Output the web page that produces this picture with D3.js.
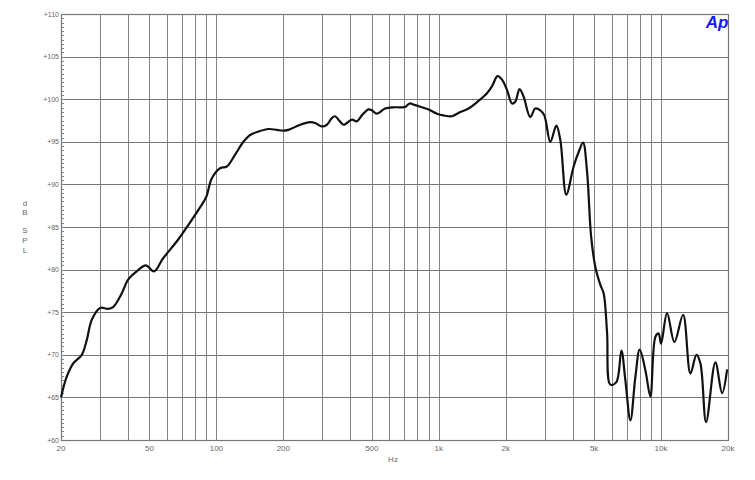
<!DOCTYPE html>
<html>
<head>
<meta charset="utf-8">
<script src="https://cdn.jsdelivr.net/npm/d3@7"></script>
<style>
  body { margin: 0; background: #fff; }
  svg { display: block; font-family: "Liberation Sans", Arial, sans-serif; }
</style>
</head>
<body>
<script>
'use strict';

// measured response: frequency (Hz) and level (dB SPL)
const freqs = [20, 21.2, 22.7, 24.8, 26.1, 27.5, 30, 32.5, 34.3, 37.5, 40, 43.8, 48.2, 52.4, 57.5,
  67.2, 74.6, 84.4, 89.9, 95.3, 103.9, 111.4, 121.4, 132.3, 141.8, 154.6, 171.4, 187, 200, 210.8,
  238, 264, 278, 298, 314, 331, 342, 354, 373, 386, 407, 428, 451, 483, 500, 527, 574, 626, 671,
  707, 739, 784, 840, 900, 982, 1051, 1147, 1250, 1362, 1510, 1648, 1735, 1839, 1925, 2027, 2135,
  2209, 2310, 2408, 2581, 2719, 2863, 2985, 3176, 3380, 3523, 3747, 4043, 4258, 4457, 4646, 4842,
  5063, 5333, 5519, 5716, 5913, 6294, 6630, 6910, 7278, 7664, 8013, 8500, 8952, 9428, 9755, 10000,
  10640, 11480, 12560, 13550, 14420, 15030, 15940, 17550, 18810, 19820];
const levels = [65.0, 67.4, 69.0, 70.0, 71.7, 74.1, 75.5, 75.4, 75.6, 77.2, 78.8, 79.8, 80.5, 79.8, 81.3,
  83.5, 85.2, 87.3, 88.5, 90.7, 91.9, 92.1, 93.5, 95.0, 95.8, 96.2, 96.5, 96.4, 96.3, 96.4,
  97.0, 97.3, 97.2, 96.8, 97.0, 97.8, 98.0, 97.6, 97.0, 97.2, 97.6, 97.4, 98.1, 98.8, 98.7, 98.3, 98.9, 99.05, 99.05,
  99.1, 99.5, 99.3, 99.05, 98.8, 98.3, 98.1, 98.0, 98.5, 98.9, 99.8, 100.7, 101.5, 102.7, 102.3, 101.1, 99.5,
  99.7, 101.2, 100.3, 97.9, 98.9, 98.7, 98.1, 95.0, 96.9, 95.2, 88.8, 92.1, 93.8, 94.9, 91.5, 84.0,
  80.3, 78.2, 77.2, 72.6, 66.5, 66.8, 70.5, 67.0, 62.3, 67.4, 70.6, 68.2, 65.1, 72.1, 72.5, 71.3,
  74.9, 71.5, 74.7, 67.8, 70.0, 69.0, 62.1, 69.1, 65.5, 68.3];

const xTicks = [20, 50, 100, 200, 500, 1000, 2000, 5000, 10000, 20000];
const xTickLabels = ["20", "50", "100", "200", "500", "1k", "2k", "5k", "10k", "20k"];
const yTicks = [60, 65, 70, 75, 80, 85, 90, 95, 100, 105, 110];

(function() {
  const width = 755, height = 480;
  const plotL = 61, plotR = 728, plotT = 14, plotB = 440;

  const svg = d3.select('body').append('svg')
    .attr('width', width)
    .attr('height', height);

  const x = d3.scaleLog().domain([20, 20000]).range([plotL, plotR]);
  const y = d3.scaleLinear().domain([60, 110]).range([plotB, plotT]);

  // vertical grid: 1..9 in every decade
  let gridX = [];
  [10, 100, 1000, 10000].forEach((dec) => {
    for (let m = 1; m <= 9; m++) {
      let f = dec * m;
      if (f > 20 && f < 20000) gridX.push(f);
    }
  });

  svg.append('g').selectAll('line')
    .data(gridX)
    .enter().append('line')
      .attr('x1', (d) => Math.round(x(d)) + 0.5)
      .attr('x2', (d) => Math.round(x(d)) + 0.5)
      .attr('y1', plotT)
      .attr('y2', plotB)
      .attr('stroke', '#858585')
      .attr('stroke-width', 1);

  svg.append('g').selectAll('line')
    .data(yTicks.slice(1, -1))
    .enter().append('line')
      .attr('x1', plotL)
      .attr('x2', plotR)
      .attr('y1', (d) => Math.round(y(d)) + 0.5)
      .attr('y2', (d) => Math.round(y(d)) + 0.5)
      .attr('stroke', '#767676')
      .attr('stroke-width', 1);

  // small ticks on the left axis every 0.5 dB
  svg.append('g').selectAll('line')
    .data(d3.range(60, 110.01, 0.5))
    .enter().append('line')
      .attr('x1', plotL)
      .attr('x2', plotL + 3)
      .attr('y1', (d) => Math.round(y(d)) + 0.5)
      .attr('y2', (d) => Math.round(y(d)) + 0.5)
      .attr('stroke', '#8a8a8a')
      .attr('stroke-width', 1);

  // frame
  svg.append('rect')
    .attr('x', plotL + 0.5)
    .attr('y', plotT + 0.5)
    .attr('width', plotR - plotL)
    .attr('height', plotB - plotT)
    .attr('fill', 'none')
    .attr('stroke', '#777')
    .attr('stroke-width', 1.2);

  // y tick labels
  svg.append('g').selectAll('text')
    .data(yTicks)
    .enter().append('text')
      .attr('x', plotL - 2)
      .attr('y', (d) => y(d) + 2.5)
      .attr('text-anchor', 'end')
      .style('font-size', '7px')
      .attr('fill', '#666')
      .text((d) => '+' + d);

  // x tick labels
  svg.append('g').selectAll('text')
    .data(xTicks)
    .enter().append('text')
      .attr('x', (d) => x(d))
      .attr('y', plotB + 11)
      .attr('text-anchor', 'middle')
      .style('font-size', '8px')
      .attr('fill', '#666')
      .text((d, i) => xTickLabels[i]);

  // axis titles
  svg.append('text')
    .attr('x', 393)
    .attr('y', 462)
    .attr('text-anchor', 'middle')
    .style('font-size', '8px')
    .attr('fill', '#666')
    .text('Hz');

  const yTitle = [['d', 206], ['B', 215], ['S', 233], ['P', 243], ['L', 253]];
  svg.append('g').selectAll('text')
    .data(yTitle)
    .enter().append('text')
      .attr('x', 25)
      .attr('y', (d) => d[1])
      .attr('text-anchor', 'middle')
      .style('font-size', '8px')
      .attr('fill', '#666')
      .text((d) => d[0]);

  // Ap logo
  svg.append('text')
    .attr('x', 717)
    .attr('y', 28)
    .attr('text-anchor', 'middle')
    .style('font-size', '17px')
    .style('font-weight', 'bold')
    .style('font-style', 'italic')
    .attr('fill', '#1a1aee')
    .text('Ap');

  // response curve
  const line = d3.line()
    .x((d) => x(d[0]))
    .y((d) => y(d[1]))
    .curve(d3.curveCatmullRom.alpha(0.5));

  svg.append('path')
    .datum(d3.zip(freqs, levels))
    .attr('d', line)
    .attr('fill', 'none')
    .attr('stroke', '#111')
    .attr('stroke-width', 2.2);
})();
</script>
</body>
</html>
